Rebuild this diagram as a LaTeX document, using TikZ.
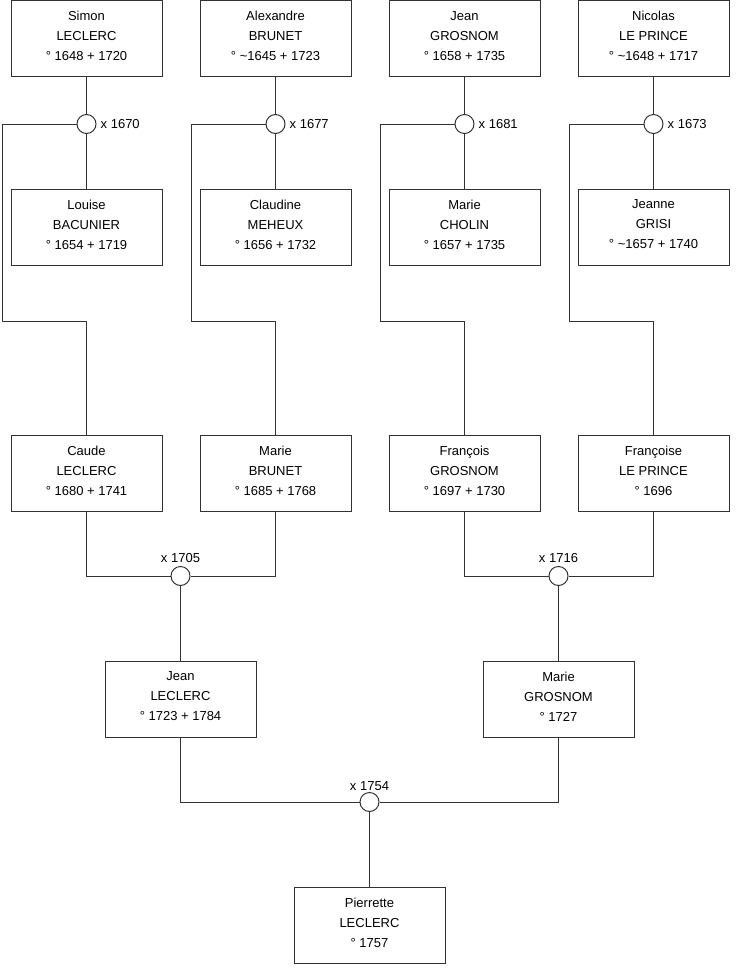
\documentclass[tikz,border=0pt]{standalone}
\usepackage{fontspec}
\setmainfont{Liberation Sans}
\newcommand\pers[4]{%
  \node[box] (#1) at (#2,#3) {};
  \node[txt] (#1t) at ([yshift=2.5pt]#1.center) {#4};}
\begin{document}
\begin{tikzpicture}[x=1pt,y=-1pt,
  box/.style={draw=black!80, line width=1pt, fill=white, minimum width=151pt, minimum height=76pt, inner sep=0pt},
  txt/.style={align=center, font=\fontsize{13}{20}\selectfont, inner sep=0pt},
  wed/.style={circle, draw=black!80, line width=1pt, fill=white, minimum size=19pt, inner sep=0pt},
  lbl/.style={font=\fontsize{13}{16}\selectfont, inner sep=0pt},
  conn/.style={draw=black!80, line width=1pt}]
\useasboundingbox (0,0) rectangle (740,975);

% persons
\pers{s1}{86.5}{38.5}{Simon\\LECLERC\\° 1648 + 1720}
\pers{s2}{275.5}{38.5}{Alexandre\\BRUNET\\° \textasciitilde1645 + 1723}
\pers{s3}{464.5}{38.5}{Jean\\GROSNOM\\° 1658 + 1735}
\pers{s4}{653.5}{38.5}{Nicolas\\LE PRINCE\\° \textasciitilde1648 + 1717}
\pers{w1}{86.5}{227}{Louise\\BACUNIER\\° 1654 + 1719}
\pers{w2}{275.5}{227}{Claudine\\MEHEUX\\° 1656 + 1732}
\pers{w3}{464.5}{227}{Marie\\CHOLIN\\° 1657 + 1735}
\pers{w4}{653.5}{227}{Jeanne\\GRISI\\° \textasciitilde1657 + 1740}
\pers{c1}{86.5}{473}{Caude\\LECLERC\\° 1680 + 1741}
\pers{c2}{275.5}{473}{Marie\\BRUNET\\° 1685 + 1768}
\pers{c3}{464.5}{473}{François\\GROSNOM\\° 1697 + 1730}
\pers{c4}{653.5}{473}{Françoise\\LE PRINCE\\° 1696}
\pers{g1}{180.5}{699}{Jean\\LECLERC\\° 1723 + 1784}
\pers{g2}{558.5}{699}{Marie\\GROSNOM\\° 1727}
\pers{p}{369.5}{925}{Pierrette\\LECLERC\\° 1757}

% marriages
\node[wed] (m1) at (86.5,124) {};
\node[wed] (m2) at (275.5,124) {};
\node[wed] (m3) at (464.5,124) {};
\node[wed] (m4) at (653.5,124) {};
\node[wed] (m5) at (180.5,576) {};
\node[wed] (m6) at (558.5,576) {};
\node[wed] (m7) at (369.5,802) {};

\node[lbl, anchor=west] (l1) at ([xshift=4pt]m1.east) {x 1670};
\node[lbl, anchor=west] (l2) at ([xshift=4pt]m2.east) {x 1677};
\node[lbl, anchor=west] (l3) at ([xshift=4pt]m3.east) {x 1681};
\node[lbl, anchor=west] (l4) at ([xshift=4pt]m4.east) {x 1673};
\node[lbl] (l5) at ([yshift=18pt]m5.center) {x 1705};
\node[lbl] (l6) at ([yshift=18pt]m6.center) {x 1716};
\node[lbl] (l7) at ([yshift=16pt]m7.center) {x 1754};

% connectors
\coordinate (k1) at (2,321);
\coordinate (k2) at (191,321);
\coordinate (k3) at (380,321);
\coordinate (k4) at (569,321);

\draw[conn] (s1) -- (m1);
\draw[conn] (m1) -- (w1);
\draw[conn] (m1.west) -| (k1) -| (c1.north);
\draw[conn] (s2) -- (m2);
\draw[conn] (m2) -- (w2);
\draw[conn] (m2.west) -| (k2) -| (c2.north);
\draw[conn] (s3) -- (m3);
\draw[conn] (m3) -- (w3);
\draw[conn] (m3.west) -| (k3) -| (c3.north);
\draw[conn] (s4) -- (m4);
\draw[conn] (m4) -- (w4);
\draw[conn] (m4.west) -| (k4) -| (c4.north);

\draw[conn] (c1.south) |- (m5.west);
\draw[conn] (c2.south) |- (m5.east);
\draw[conn] (m5) -- (g1);
\draw[conn] (c3.south) |- (m6.west);
\draw[conn] (c4.south) |- (m6.east);
\draw[conn] (m6) -- (g2);
\draw[conn] (g1.south) |- (m7.west);
\draw[conn] (g2.south) |- (m7.east);
\draw[conn] (m7) -- (p);
\end{tikzpicture}
\end{document}
